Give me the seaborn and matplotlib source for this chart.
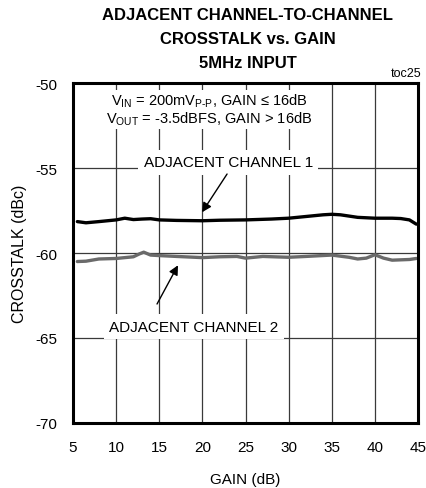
import matplotlib
matplotlib.use("Agg")
import matplotlib.pyplot as plt
import seaborn as sns
import pandas as pd

# Crosstalk measurements, 5MHz input
gain_ch1 = [5.5, 6.5, 8, 10, 11, 12, 13, 14, 15, 17, 20, 22, 25, 28, 30, 32, 34, 35, 36, 38, 40, 42, 43, 44, 44.8]
xtalk_ch1 = [-58.15, -58.22, -58.15, -58.05, -57.95, -58.03, -58.0, -57.98, -58.05, -58.08, -58.1, -58.07,
             -58.05, -58.0, -57.95, -57.85, -57.75, -57.72, -57.75, -57.9, -57.95, -57.95, -57.97, -58.05, -58.3]
gain_ch2 = [5.5, 6.5, 8, 10, 12, 12.7, 13.2, 14, 15, 17, 20, 22, 24, 25, 27, 30, 32, 35, 37, 38, 39, 40, 41, 42, 44, 44.8]
xtalk_ch2 = [-60.5, -60.48, -60.35, -60.32, -60.22, -60.05, -59.95, -60.12, -60.15, -60.2, -60.27, -60.22, -60.2,
             -60.3, -60.2, -60.25, -60.2, -60.12, -60.25, -60.35, -60.3, -60.1, -60.3, -60.42, -60.38, -60.32]

x_ticks = [5, 10, 15, 20, 25, 30, 35, 40, 45]
y_ticks = [-70, -65, -60, -55, -50]

sns.set_theme(style="white")
plt.rcParams['font.family'] = ['Liberation Sans', 'DejaVu Sans']
plt.rcParams['text.color'] = 'black'
plt.rcParams['axes.labelcolor'] = 'black'
plt.rcParams['mathtext.default'] = 'regular'

fig = plt.figure(figsize=(4.27, 4.89), dpi=100)
ax = fig.add_axes([0.171, 0.133, 0.808, 0.695])

df1 = pd.DataFrame({"gain": gain_ch1, "xtalk": xtalk_ch1})
df2 = pd.DataFrame({"gain": gain_ch2, "xtalk": xtalk_ch2})
sns.lineplot(data=df1, x="gain", y="xtalk", ax=ax, color="black", lw=2.4, zorder=4)
sns.lineplot(data=df2, x="gain", y="xtalk", ax=ax, color="#6a6a6a", lw=2.4, zorder=4)

ax.set_xlim(5, 45)
ax.set_ylim(-70, -50)
ax.set_xticks(x_ticks)
ax.set_yticks(y_ticks)
ax.set_xticklabels([str(v) for v in x_ticks])
ax.set_yticklabels([str(v) for v in y_ticks])
ax.grid(True, color="#3a3a3a", lw=0.9)
ax.tick_params(length=0, labelsize=11, colors="black")
ax.tick_params(axis="x", pad=12)
ax.tick_params(axis="y", pad=11)
for s in ax.spines.values():
    s.set_color("black")
    s.set_linewidth(2.2)
    s.set_zorder(6)

ax.set_xlabel("GAIN (dB)", fontsize=11, labelpad=13)
ax.set_ylabel("CROSSTALK (dBc)", fontsize=11.5, labelpad=6)

for i, line in enumerate(["ADJACENT CHANNEL-TO-CHANNEL", "CROSSTALK vs. GAIN", "5MHz INPUT"]):
    fig.text(0.58, 1 - (16 + 23.5 * i) / 489, line, ha="center", va="center",
             fontsize=12, fontweight="bold")
fig.text(0.988, 0.848, "toc25", ha="right", va="center", fontsize=9)

box = dict(facecolor="white", edgecolor="none", pad=1.5)
ax.text(20.8, -51.56, "V$_{IN}$ = 200mV$_{P\u2010P}$, GAIN \u2264 16dB\n"
        "V$_{OUT}$ = -3.5dBFS, GAIN > 16dB",
        ha="center", va="center", fontsize=10.5, linespacing=1.05, bbox=box, zorder=5)

label_box = dict(facecolor="white", edgecolor="none", pad=4)
ax.text(23.0, -54.65, "ADJACENT CHANNEL 1", ha="center", va="center", fontsize=11,
        bbox=label_box, zorder=5)
ax.text(19.0, -64.35, "ADJACENT CHANNEL 2", ha="center", va="center", fontsize=11,
        bbox=label_box, zorder=5)

arrow = dict(arrowstyle="-|>", color="black", lw=1.0, mutation_scale=14, shrinkA=0, shrinkB=0)
ax.annotate("", xy=(19.96, -57.6), xytext=(22.86, -55.35), arrowprops=arrow, zorder=5)
ax.annotate("", xy=(17.17, -60.72), xytext=(14.74, -63.0), arrowprops=arrow, zorder=5)

fig.savefig("out.png", dpi=100)
